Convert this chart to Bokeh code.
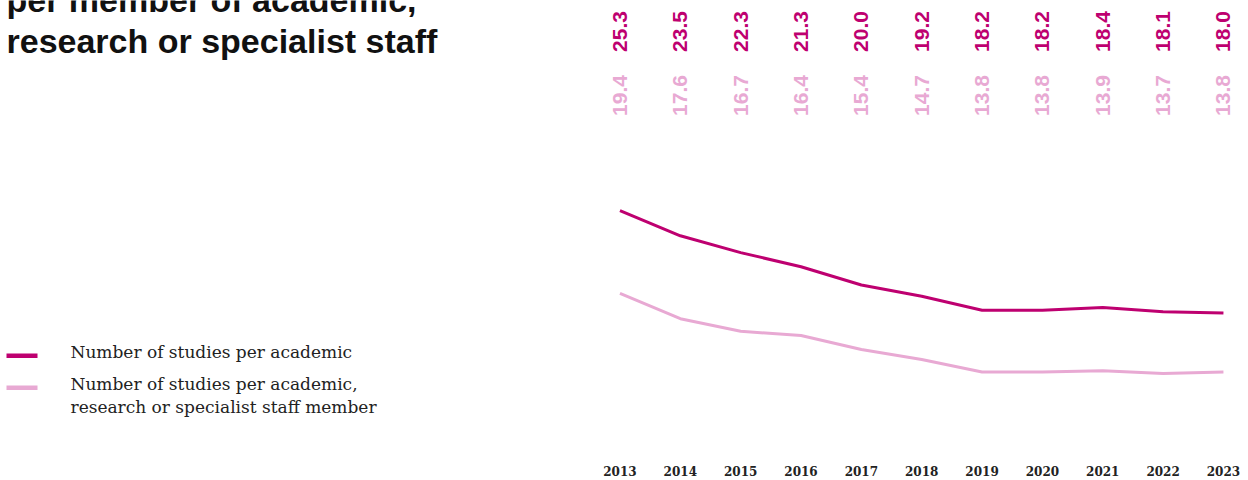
from math import pi
from bokeh.plotting import figure
from bokeh.models import ColumnDataSource, LabelSet, Label, BoxAnnotation, Range1d
from bokeh.core.properties import value
from bokeh.embed import file_html
from bokeh.resources import INLINE

# ---- data ----
years = [2013, 2014, 2015, 2016, 2017, 2018, 2019, 2020, 2021, 2022, 2023]
per_academic = [25.3, 23.5, 22.3, 21.3, 20.0, 19.2, 18.2, 18.2, 18.4, 18.1, 18.0]
per_staff = [19.4, 17.6, 16.7, 16.4, 15.4, 14.7, 13.8, 13.8, 13.9, 13.7, 13.8]
year_labels = [str(y) for y in years]
title_lines = ["per member of academic,", "research or specialist staff"]
legend_names = ["Number of studies per academic",
                ["Number of studies per academic,", "research or specialist staff member"]]

DARK = "#BE0070"
LIGHT = "#E8A9D3"
W, H = 1248, 480

src = ColumnDataSource(dict(
    year=years,
    academic=per_academic,
    staff=per_staff,
    academic_txt=[f"{v:.1f}" for v in per_academic],
    staff_txt=[f"{v:.1f}" for v in per_staff],
    year_txt=year_labels,
))

p = figure(width=W, height=H, output_backend="svg", toolbar_location=None,
           x_range=Range1d(2002.735, 2023.415), y_range=Range1d(6.08, 40.25),
           x_axis_location=None, y_axis_location=None, min_border=0)
p.grid.visible = False
p.outline_line_color = None
p.background_fill_color = "white"
p.border_fill_color = "white"

p.line("year", "academic", source=src, line_color=DARK, line_width=3)
p.line("year", "staff", source=src, line_color=LIGHT, line_width=3)

# value labels (rotated)
p.add_layout(LabelSet(x="year", y=H - 31, y_units="screen", text="academic_txt", source=src,
                      angle=pi / 2, text_align="center", text_baseline="middle",
                      text_color=DARK, text_font=value("Liberation Sans"),
                      text_font_style="bold", text_font_size="21px"))
p.add_layout(LabelSet(x="year", y=H - 95, y_units="screen", text="staff_txt", source=src,
                      angle=pi / 2, text_align="center", text_baseline="middle",
                      text_color=LIGHT, text_font=value("Liberation Sans"),
                      text_font_style="bold", text_font_size="21px"))

# year labels
p.add_layout(LabelSet(x="year", y=H - 470, y_units="screen", text="year_txt", source=src,
                      text_align="center", text_baseline="middle",
                      text_color="#222222", text_font=value("DejaVu Serif"),
                      text_font_style="bold", text_font_size="12px"))

# title
for i, line in enumerate(title_lines):
    p.add_layout(Label(x=6, y=H + 1 - 41 * i, x_units="screen", y_units="screen", text=line,
                       text_font="Liberation Sans", text_font_style="bold",
                       text_font_size="34px", text_color="#111111",
                       text_baseline="alphabetic"))

# legend
swatches = [(DARK, H - 353), (LIGHT, H - 385)]
for color, top in swatches:
    p.add_layout(BoxAnnotation(left=6, right=37, top=top, bottom=top - 4.5,
                               left_units="screen", right_units="screen",
                               top_units="screen", bottom_units="screen",
                               fill_color=color, fill_alpha=1, line_color=None))
legend_lines = [(legend_names[0], H - 351), (legend_names[1][0], H - 383), (legend_names[1][1], H - 406)]
for txt, y in legend_lines:
    p.add_layout(Label(x=70, y=y, x_units="screen", y_units="screen", text=txt,
                       text_font="DejaVu Serif", text_font_size="17px",
                       text_color="#222222", text_baseline="alphabetic"))

open("out.html", "w").write(file_html(p, INLINE))
